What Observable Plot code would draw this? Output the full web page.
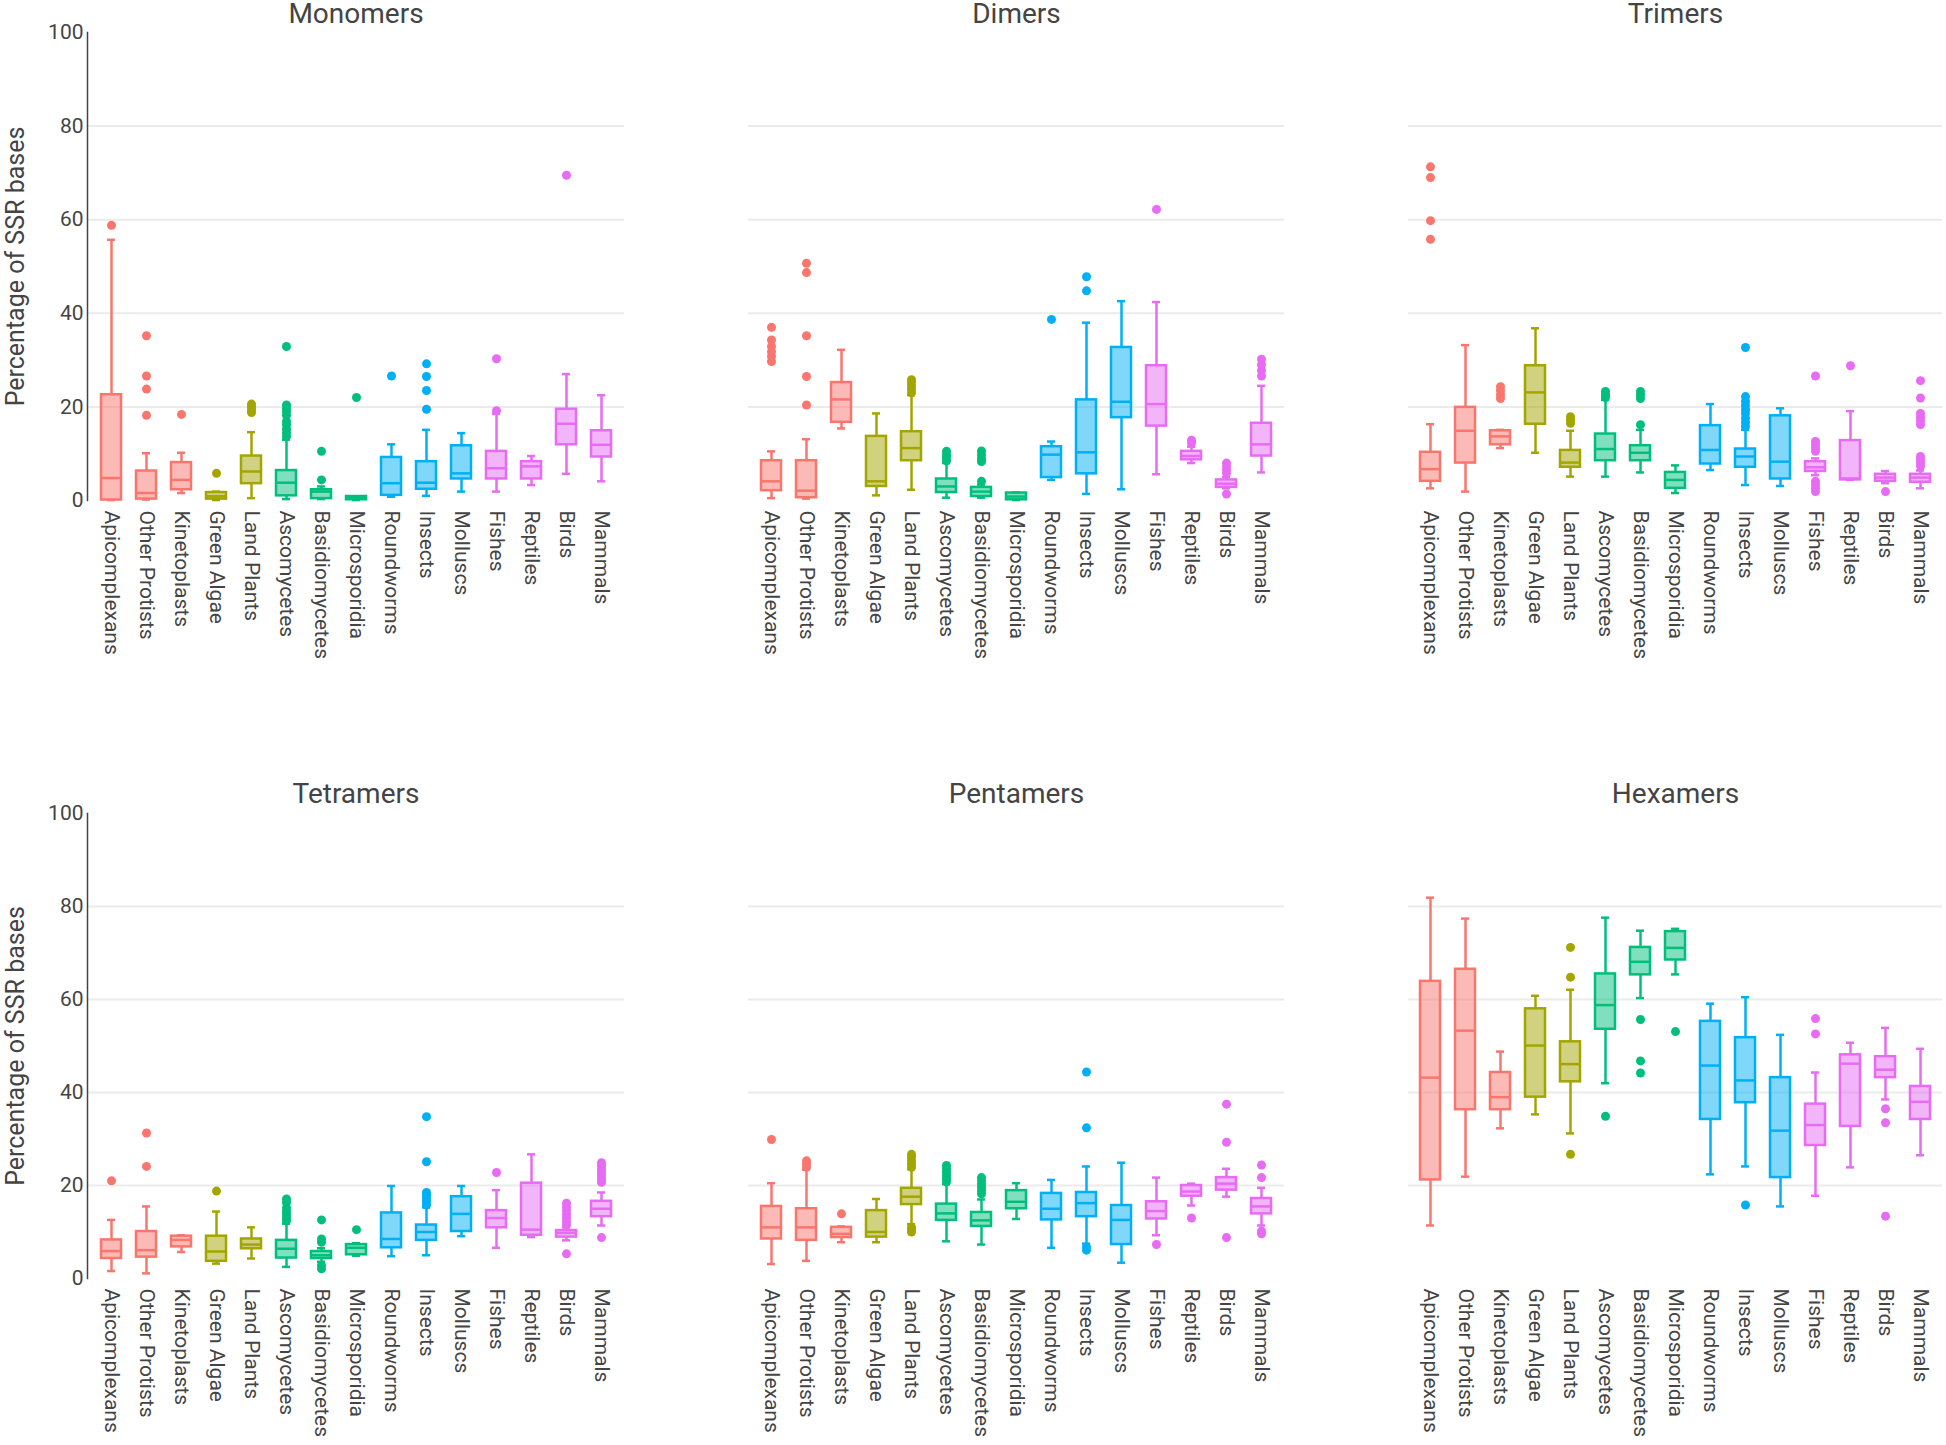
<!DOCTYPE html>
<html><head><meta charset="utf-8">
<script src="https://cdn.jsdelivr.net/npm/d3@7"></script>
<script src="https://cdn.jsdelivr.net/npm/@observablehq/plot@0.6"></script>
<style>
body{margin:0;background:#fff;}
#chart{position:relative;width:1946px;height:1445px;font-family:Roboto,sans-serif;background:#fff;}
.panel{position:absolute;}
</style></head><body><div id="chart"></div>
<script>
const categories = ["Apicomplexans","Other Protists","Kinetoplasts","Green Algae","Land Plants","Ascomycetes","Basidiomycetes","Microsporidia","Roundworms","Insects","Molluscs","Fishes","Reptiles","Birds","Mammals"];
const groupColors = ["#F8766D","#A3A500","#00BF7D","#00B0F6","#E76BF3"];
const categoryGroup = [0,0,0,1,1,2,2,2,3,3,3,4,4,4,4];
const yTicks = [0,20,40,60,80,100];
const gridTicks = [20,40,60,80];

// [lower whisker, Q1, median, Q3, upper whisker]
const monomersBox = [[0.1,0.1,4.8,22.6,55.7],[0.2,0.3,1.6,6.3,10.1],[1.6,2.3,4.4,8.1,10.2],[0.1,0.3,0.9,1.7,1.9],[0.5,3.6,6.2,9.5,14.6],[0.3,1.0,3.8,6.4,13.0],[0.3,0.4,1.9,2.3,3.0],[0.1,0.15,0.5,0.85,0.9],[0.8,1.1,3.7,9.2,12.0],[1.0,2.4,3.8,8.3,15.1],[1.9,4.6,5.8,11.7,14.4],[1.9,4.6,6.9,10.5,18.5],[3.3,4.6,7.3,8.3,9.5],[5.7,11.9,16.4,19.5,27.0],[4.1,9.3,11.9,14.9,22.5]];
const monomersOut = [[58.8],[35.2,26.6,23.8,18.2],[18.4],[5.8],[18.8,19.4,20.0,20.6],[13.7,14.5,15.3,16.2,16.9,18.2,19.0,19.7,20.4,32.9],[4.4,10.5],[22.0],[26.6],[19.5,23.5,26.5,29.2],[],[19.2,30.3],[],[69.5],[]];

const dimersBox = [[0.5,2.1,4.1,8.5,10.5],[0.4,0.6,2.1,8.5,13.1],[15.4,16.7,21.6,25.2,32.2],[1.1,3.0,4.1,13.7,18.6],[2.3,8.5,11.2,14.7,22.5],[0.6,1.7,3.0,4.6,8.0],[0.6,0.85,1.9,2.8,3.4],[0.1,0.15,0.85,1.6,1.7],[4.4,4.9,9.8,11.5,12.6],[1.4,5.7,10.3,21.5,38.0],[2.4,17.7,21.1,32.7,42.6],[5.6,15.9,20.6,28.8,42.4],[8.0,8.7,9.5,10.5,11.5],[2.6,2.8,3.6,4.4,5.0],[6.0,9.5,12.0,16.5,24.5]];
const dimersOut = [[29.7,30.8,31.8,32.9,34.3,37.0],[20.4,26.5,35.2,48.7,50.7],[],[],[23.0,23.8,24.5,25.2,25.8],[8.5,9.2,9.8,10.5],[4.1,8.3,9.0,9.8,10.6],[],[38.7],[44.8,47.8],[],[62.2],[12.3,12.9],[1.4,5.8,6.5,7.2,8.0],[26.6,27.8,29.0,30.2]];

const trimersBox = [[2.6,4.1,6.7,10.3,16.3],[1.9,8.0,14.9,19.9,33.2],[11.2,11.9,13.7,14.9,15.1],[10.2,16.3,23.1,28.8,36.8],[5.1,7.1,8.1,10.7,14.9],[5.1,8.5,11.0,14.2,21.5],[6.0,8.5,10.2,11.7,15.1],[1.6,2.6,4.4,6.0,7.5],[6.5,7.8,10.8,16.0,20.6],[3.3,7.1,9.4,11.0,15.1],[3.1,4.6,8.3,18.1,19.7],[5.4,6.2,7.1,8.3,9.0],[4.4,4.4,4.7,12.8,19.1],[3.7,4.1,4.9,5.6,6.3],[2.6,3.9,4.9,5.6,6.4]];
const trimersOut = [[55.8,59.8,69.0,71.3],[],[21.8,22.6,23.5,24.3],[],[16.5,17.2,17.9],[22.0,22.6,23.3],[16.2,21.8,22.6,23.3],[],[],[15.8,16.7,17.6,18.6,19.4,20.3,21.2,22.2,32.7],[],[1.9,2.6,3.4,4.1,10.5,11.2,11.9,12.6,26.6],[28.8],[1.9],[7.3,8.0,8.7,9.4,16.2,17.0,17.8,18.6,21.9,25.6]];

const tetramersBox = [[1.6,4.3,5.9,8.3,12.6],[1.1,4.6,6.1,10.1,15.5],[5.7,6.8,8.3,9.1,9.3],[3.2,3.7,5.8,9.1,14.4],[4.3,6.4,7.3,8.5,11.0],[2.5,4.4,6.4,8.2,11.8],[3.6,4.3,5.0,5.8,6.5],[4.9,5.1,6.6,7.3,7.6],[4.8,6.6,8.5,14.1,19.9],[5.0,8.2,10.0,11.5,15.3],[9.1,10.1,13.9,17.6,19.9],[6.6,10.9,13.0,14.6,19.0],[8.9,9.3,10.5,20.5,26.7],[8.2,8.9,9.8,10.3,11.0],[11.4,13.3,15.0,16.6,18.5]];
const tetramersOut = [[21.0],[24.1,31.3],[],[18.8],[],[12.4,13.0,13.7,14.4,15.2,16.3,17.1],[2.1,2.8,7.8,8.5,12.6],[10.5],[],[15.8,16.5,17.2,17.9,18.5,25.1,34.8],[],[22.8],[],[5.3,11.5,12.2,13.0,13.8,14.6,15.4,16.2],[8.8,20.7,21.4,22.1,22.8,23.5,24.2,24.9]];

const pentamersBox = [[3.1,8.5,11.0,15.5,20.5],[3.8,8.2,11.0,15.0,23.4],[7.8,8.8,9.6,11.0,11.2],[7.8,8.9,10.0,14.6,17.1],[11.7,15.9,17.6,19.4,23.5],[8.0,12.5,14.0,16.0,20.3],[7.3,11.2,12.5,14.2,17.0],[12.8,15.0,16.5,18.9,20.5],[6.6,12.6,15.0,18.3,21.2],[7.5,13.3,16.2,18.5,24.1],[3.4,7.3,12.6,15.7,24.9],[9.3,12.8,14.5,16.5,21.7],[15.7,17.7,18.7,20.0,20.4],[17.6,19.0,20.4,21.7,23.6],[11.4,13.9,15.5,17.2,19.5]];
const pentamersOut = [[29.9],[23.9,24.6,25.3],[13.9],[],[10.0,10.5,11.0,23.9,24.6,25.3,26.0,26.7],[20.8,21.5,22.2,22.9,23.6,24.3],[18.2,18.9,19.6,20.3,21.0,21.7],[],[],[6.1,6.8,32.4,44.4],[],[7.3],[13.0],[8.8,29.3,37.5],[9.6,10.2,21.7,24.4]];

const hexamersBox = [[11.4,21.2,43.2,63.9,81.9],[21.9,36.3,53.3,66.5,77.4],[32.3,36.3,39.0,44.3,48.8],[35.3,39.0,50.1,58.0,60.8],[31.2,42.3,46.1,50.9,62.1],[42.0,53.6,58.8,65.5,77.6],[60.3,65.3,68.1,71.2,74.8],[65.4,68.5,71.1,74.6,75.2],[22.4,34.2,45.8,55.3,59.1],[24.1,37.8,42.6,51.8,60.5],[15.5,21.7,31.8,43.2,52.4],[17.8,28.6,33.0,37.5,44.3],[23.9,32.7,46.2,48.1,50.7],[38.5,43.2,44.9,47.7,53.9],[26.5,34.2,38.0,41.3,49.4]];
const hexamersOut = [[],[],[],[],[26.7,64.8,71.2],[34.9],[44.2,46.8,55.7],[53.1],[],[15.8],[],[52.6,55.9],[],[13.4,33.5,36.5],[]];

const panels = [
  {title:"Monomers", box:monomersBox, out:monomersOut},
  {title:"Dimers", box:dimersBox, out:dimersOut},
  {title:"Trimers", box:trimersBox, out:trimersOut},
  {title:"Tetramers", box:tetramersBox, out:tetramersOut},
  {title:"Pentamers", box:pentamersBox, out:pentamersOut},
  {title:"Hexamers", box:hexamersBox, out:hexamersOut}
];

const cols = [{left:0,width:640,ml:87,mr:16},{left:640,width:660,ml:108,mr:16},{left:1300,width:646,ml:108,mr:4}];
const rowsL = [{top:0,height:760,mt:32,mb:260,titleDy:-18},{top:760,height:685,mt:53,mb:167,titleDy:-19}];

const chart = document.getElementById("chart");

panels.forEach((p, k) => {
  const ci = k % 3, ri = Math.floor(k / 3);
  const col = cols[ci], row = rowsL[ri];
  const stats = categories.map((c, i) => ({cat:c, lo:p.box[i][0], q1:p.box[i][1], med:p.box[i][2], q3:p.box[i][3], hi:p.box[i][4], color:groupColors[categoryGroup[i]]}));
  const pts = p.out.flatMap((vals, i) => vals.map(v => ({cat:categories[i], v, color:groupColors[categoryGroup[i]]})));
  const marks = [
    Plot.gridY({ticks:gridTicks, stroke:"#ebebeb", strokeOpacity:1, strokeWidth:2}),
    Plot.ruleX(stats, {x:"cat", y1:"lo", y2:"q1", stroke:"color", strokeWidth:2.5}),
    Plot.ruleX(stats, {x:"cat", y1:"q3", y2:"hi", stroke:"color", strokeWidth:2.5}),
    Plot.tickY(stats, {x:"cat", y:"lo", stroke:"color", strokeWidth:2.5, insetLeft:6, insetRight:6}),
    Plot.tickY(stats, {x:"cat", y:"hi", stroke:"color", strokeWidth:2.5, insetLeft:6, insetRight:6}),
    Plot.barY(stats, {x:"cat", y1:"q1", y2:"q3", fill:"color", fillOpacity:0.5, stroke:"color", strokeWidth:2.5}),
    Plot.tickY(stats, {x:"cat", y:"med", stroke:"color", strokeWidth:2.5}),
    Plot.dot(pts, {x:"cat", y:"v", fill:"color", r:4.5}),
    Plot.axisX({tickSize:0, tickPadding:10, tickRotate:90, fontSize:21, label:null}),
    Plot.text([p.title], {text:d => d, frameAnchor:"top", lineAnchor:"middle", dy:row.titleDy, fontSize:28, fill:"#444"})
  ];
  if (ci === 0) {
    marks.push(
      Plot.axisY({ticks:yTicks, tickSize:0, tickPadding:4, fontSize:21, label:null}),
      Plot.frame({anchor:"left", stroke:"#444", strokeWidth:1.5}),
      Plot.text(["Percentage of SSR bases"], {text:d => d, frameAnchor:"left", textAnchor:"middle", lineAnchor:"middle", dx:-72, rotate:-90, fontSize:25, fill:"#444"})
    );
  }
  const svg = Plot.plot({
    width: col.width,
    height: row.height,
    marginLeft: col.ml,
    marginRight: col.mr,
    marginTop: row.mt,
    marginBottom: row.mb,
    style: {fontFamily:"Roboto, sans-serif", color:"#444", background:"transparent", overflow:"visible"},
    x: {type:"band", domain:categories, paddingInner:0.44, paddingOuter:0.3, label:null, axis: null},
    y: {domain:[0,100], label:null, axis: null},
    color: {type:"identity"},
    marks
  });
  const div = document.createElement("div");
  div.className = "panel";
  div.style.left = col.left + "px";
  div.style.top = row.top + "px";
  div.appendChild(svg);
  chart.appendChild(div);
});
</script></body></html>
